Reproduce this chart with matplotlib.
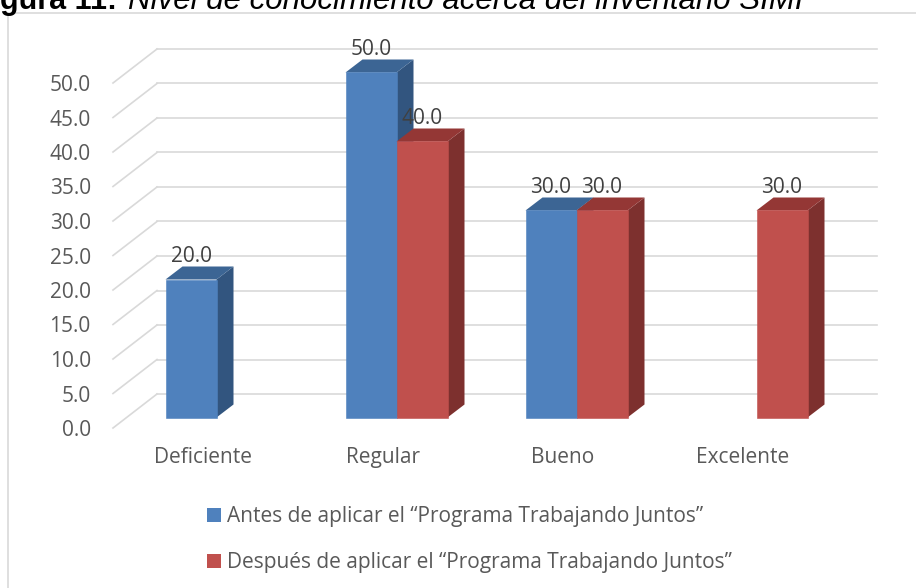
import matplotlib
matplotlib.use("Agg")
import matplotlib.pyplot as plt
from matplotlib.patches import Polygon, Patch, Rectangle

# data
categorias = ["Deficiente", "Regular", "Bueno", "Excelente"]
antes = [20.0, 50.0, 30.0, 0.0]
despues = [0.0, 40.0, 30.0, 30.0]
serie_antes = "Antes de aplicar el \u201cPrograma Trabajando Juntos\u201d"
serie_despues = "Despu\u00e9s de aplicar el \u201cPrograma Trabajando Juntos\u201d"
yticks = [0, 5, 10, 15, 20, 25, 30, 35, 40, 45, 50]

plt.rcParams["font.family"] = ["Open Sans", "DejaVu Sans"]
gris = "#595959"
rejilla = "#D9D9D9"
fs = 15

W, H = 916, 588
fig = plt.figure(figsize=(W / 100, H / 100), dpi=100)

# axes in pixel terms: front plane x from 113, grid back end at 877, zero at y=428
px_x = 180.0   # px per category
px_y = 6.9     # px per unit
left, right, bottom, top = 113, 877, 428, 40
ax = fig.add_axes([left / W, 1 - bottom / H, (right - left) / W, (bottom - top) / H])
ax.set_xlim(-0.5, -0.5 + (right - left) / px_x)
ax.set_ylim(0, (bottom - top) / px_y)
for s in ax.spines.values():
    s.set_visible(False)

# depth of the floor and of the bars (in data units)
DX, DY = 44 / px_x, 34 / px_y
dx, dy = 17 / px_x, 13 / px_y
ox, oy = (DX - dx) / 2, (DY - dy) / 2
bw = 51 / px_x

# gridlines: back wall + side diagonals
x0, x1 = -0.5, len(categorias) - 0.5
for v in yticks:
    ax.plot([x0 + DX, x1 + DX], [v + DY, v + DY], color=rejilla, lw=1.2, zorder=1,
            clip_on=False)
    ax.plot([x0, x0 + DX], [v, v + DY], color=rejilla, lw=1.2, zorder=1, clip_on=False)


def bar3d(xl, h, front, topc, side):
    if h <= 0:
        return
    xb, yb = xl + ox, oy
    ax.add_patch(Polygon([(xb + bw, yb), (xb + bw + dx, yb + dy), (xb + bw + dx, yb + h + dy),
                          (xb + bw, yb + h)], closed=True, fc=side, ec="none", zorder=3,
                         clip_on=False))
    ax.add_patch(Polygon([(xb, yb + h), (xb + dx, yb + h + dy), (xb + bw + dx, yb + h + dy),
                          (xb + bw, yb + h)], closed=True, fc=topc, ec="none", zorder=3,
                         clip_on=False))
    ax.add_patch(Rectangle((xb, yb), bw, h, fc=front, ec=front, lw=0.4, zorder=3,
                           clip_on=False))
    ax.annotate(f"{h:.1f}", xy=(xb + bw / 2, yb + h + dy), xytext=(0, 7.5),
                textcoords="offset points", ha="center", va="center", fontsize=fs,
                color="#404040", zorder=6)


for i in range(len(categorias)):
    bar3d(i - bw, antes[i], "#4F81BD", "#3C6594", "#32557F")
    bar3d(i, despues[i], "#C0504D", "#943735", "#7D302E")

ax.set_yticks(yticks)
ax.set_yticklabels([f"{v:.1f}" for v in yticks])
ax.set_xticks(range(len(categorias)))
ax.set_xticklabels(categorias)
ax.tick_params(axis="both", length=0, labelsize=fs, labelcolor=gris)
ax.tick_params(axis="y", pad=16)
ax.tick_params(axis="x", pad=14)

handles = [Patch(fc="#4F81BD", ec="none"), Patch(fc="#C0504D", ec="none")]
fig.legend(handles, [serie_antes, serie_despues], loc="upper left",
           bbox_to_anchor=(207 / W, 1 - 506 / H), frameon=False, fontsize=fs,
           labelcolor=gris, handlelength=0.67, handleheight=0.67, handletextpad=0.3,
           labelspacing=1.2, borderaxespad=0, borderpad=0)

# chart border
fig.add_artist(Rectangle((8 / W, -0.05), 1.1, 1 - 13 / H + 0.05, transform=fig.transFigure,
                         fill=False, ec="#D9D9D9", lw=1.2))

# caption (cut at top in the reference)
fig.text(0 / W, 1 - 9 / H, "gura 11:", fontsize=22, fontweight="bold",
         family="Liberation Sans", va="baseline", ha="left")
fig.text(128 / W, 1 - 9 / H, "Nivel de conocimiento acerca del inventario SIMI", fontsize=22.5,
         style="italic", family="Liberation Sans", va="baseline", ha="left")

fig.savefig("out.png", dpi=100)
